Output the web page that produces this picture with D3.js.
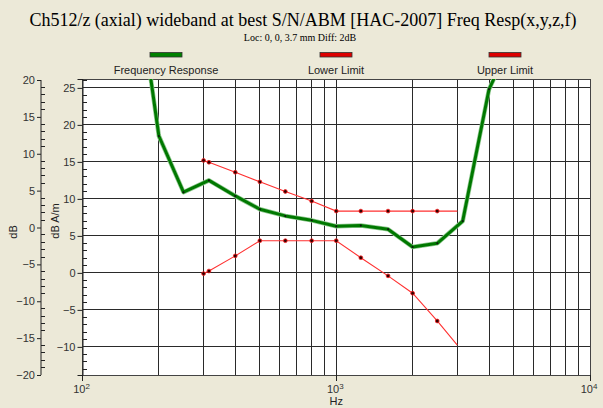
<!DOCTYPE html>
<html>
<head>
<meta charset="utf-8">
<script src="https://cdn.jsdelivr.net/npm/d3@7"></script>
<style>
  body { margin: 0; background: #ECE9D8; }
  svg { display: block; }
  .title { font-family: "Liberation Serif", "Times New Roman", serif; font-size: 18px; fill: #000; }
  .subtitle { font-family: "Liberation Serif", serif; font-size: 10px; fill: #000; }
  .legend-text { font-family: "Liberation Sans", Arial, sans-serif; font-size: 11px; fill: #222; }
  .tick-text { font-family: "Liberation Sans", Arial, sans-serif; font-size: 11px; fill: #333; }
  .xy-title { font-family: "Liberation Sans", Arial, sans-serif; font-size: 11px; fill: #222; }
</style>
</head>
<body>
<svg width="603" height="408"></svg>
<script>
const width = 603;
const height = 408;

const svg = d3.select('svg');

// Frequency response (dB A/m)
const respFreq = [160, 200, 250, 315, 400, 500, 630, 800, 1000, 1250, 1600, 2000, 2500, 3150, 4000, 5000];
const respDb   = [42, 18.5, 10.9, 12.5, 10.4, 8.6, 7.7, 7.1, 6.3, 6.4, 5.9, 3.5, 4.0, 7.0, 24.8, 32];

// limits
const limitFreq = [300, 315, 400, 500, 630, 800, 1000, 1250, 1600, 2000, 2500, 3000];
const upperDb   = [15.2, 14.95, 13.6, 12.3, 11.0, 9.7, 8.35, 8.35, 8.35, 8.35, 8.35, 8.35];
const lowerDb   = [-0.1, 0.25, 2.3, 4.35, 4.35, 4.35, 4.35, 2.05, -0.4, -2.75, -6.5, -9.75];

const legendNames = ['Frequency Response', 'Lower Limit', 'Upper Limit'];
const legendColors = ['#008000', '#dd0000', '#dd0000'];

const outerTicks = [-20, -15, -10, -5, 0, 5, 10, 15, 20];
const innerTicks = [-10, -5, 0, 5, 10, 15, 20, 25];
const decades = [2, 3, 4];

const margin = { left: 82.5, right: 13, top: 79, bottom: 33 };
const plotW = width - margin.left - margin.right;
const plotH = height - margin.top - margin.bottom;

const xScale = d3.scaleLog().domain([100, 10000]).range([margin.left, margin.left + plotW]);
const yInner = d3.scaleLinear().domain([-13.8, 26.2]).range([margin.top + plotH, margin.top]);
const yOuter = d3.scaleLinear().domain([-20, 20]).range([margin.top + plotH, margin.top + 1]);

// title
svg.append('text').attr('class', 'title')
    .attr('x', 303).attr('y', 26).attr('text-anchor', 'middle')
    .text('Ch512/z (axial) wideband at best S/N/ABM [HAC-2007] Freq Resp(x,y,z,f)');
svg.append('text').attr('class', 'subtitle')
    .attr('x', 300).attr('y', 41).attr('text-anchor', 'middle')
    .text('Loc: 0, 0, 3.7 mm Diff: 2dB');

// legend
const legendX = [166, 336, 505];
legendNames.forEach((name, i) => {
    svg.append('rect')
        .attr('x', legendX[i] - 16).attr('y', 52.5)
        .attr('width', 32).attr('height', 4.5)
        .attr('fill', legendColors[i])
        .attr('stroke', '#333').attr('stroke-width', 0.8);
    svg.append('text').attr('class', 'legend-text')
        .attr('x', legendX[i]).attr('y', 74).attr('text-anchor', 'middle')
        .text(name);
});

// plot background
svg.append('rect')
    .attr('x', margin.left).attr('y', margin.top)
    .attr('width', plotW).attr('height', plotH)
    .attr('fill', '#fff');

const grid = svg.append('g').attr('shape-rendering', 'crispEdges');

// vertical grid (log)
const xGrid = xScale.ticks().filter(f => f > 100 && f < 10000);
grid.selectAll('.vline').data(xGrid).enter().append('line')
    .attr('x1', d => xScale(d)).attr('x2', d => xScale(d))
    .attr('y1', margin.top).attr('y2', margin.top + plotH)
    .attr('stroke', '#2a2a2a').attr('stroke-width', 1);

// horizontal grid
grid.selectAll('.hline').data(innerTicks).enter().append('line')
    .attr('x1', margin.left).attr('x2', margin.left + plotW)
    .attr('y1', d => yInner(d)).attr('y2', d => yInner(d))
    .attr('stroke', '#2a2a2a').attr('stroke-width', 1);

// frame
grid.append('rect')
    .attr('x', margin.left).attr('y', margin.top)
    .attr('width', plotW).attr('height', plotH)
    .attr('fill', 'none').attr('stroke', '#444').attr('stroke-width', 1);

// inner y axis (dB A/m)
const innerAxis = d3.axisLeft(yInner).tickValues(innerTicks).tickSize(5).tickPadding(2);
const innerG = svg.append('g')
    .attr('transform', `translate(${margin.left},0)`)
    .call(innerAxis);
innerG.select('.domain').attr('stroke', '#222');
innerG.selectAll('.tick line').attr('stroke', '#222');
innerG.selectAll('.tick text').attr('class', 'tick-text').attr('font-size', null).attr('font-family', null);
const innerMinor = d3.range(-13, 27).filter(v => v % 5 !== 0);
innerG.selectAll('.minor').data(innerMinor).enter().append('line')
    .attr('x1', 0).attr('x2', 4)
    .attr('y1', d => yInner(d)).attr('y2', d => yInner(d))
    .attr('stroke', '#222').attr('shape-rendering', 'crispEdges');

// outer y axis (dB)
const outerX = 41;
const outerAxis = d3.axisLeft(yOuter).tickValues(outerTicks).tickSize(4).tickPadding(2);
const outerG = svg.append('g')
    .attr('transform', `translate(${outerX},0)`)
    .call(outerAxis);
outerG.select('.domain').attr('stroke', '#222').attr('d', `M0,${yOuter(20)}V${yOuter(-20)}`);
outerG.selectAll('.tick line').attr('stroke', '#222');
outerG.selectAll('.tick text').attr('class', 'tick-text').attr('font-size', null).attr('font-family', null);
const outerMinor = d3.range(-19, 20).filter(v => v % 5 !== 0);
outerG.selectAll('.minor').data(outerMinor).enter().append('line')
    .attr('x1', 0).attr('x2', 4)
    .attr('y1', d => yOuter(d)).attr('y2', d => yOuter(d))
    .attr('stroke', '#222').attr('shape-rendering', 'crispEdges');

// axis titles
svg.append('text').attr('class', 'xy-title')
    .attr('transform', `translate(17,${margin.top + plotH / 2 + 5}) rotate(-90)`)
    .attr('text-anchor', 'middle').text('dB');
svg.append('text').attr('class', 'xy-title')
    .attr('transform', `translate(59,${margin.top + plotH / 2 - 6}) rotate(-90)`)
    .attr('text-anchor', 'middle').text('dB A/m');

// x axis decade ticks + labels
const xAxisG = svg.append('g');
decades.forEach(p => {
    const xv = xScale(Math.pow(10, p));
    xAxisG.append('line')
        .attr('x1', xv).attr('x2', xv)
        .attr('y1', margin.top + plotH).attr('y2', margin.top + plotH + 6)
        .attr('stroke', '#222').attr('shape-rendering', 'crispEdges');
    const t = xAxisG.append('text').attr('class', 'tick-text')
        .attr('x', xv - 1).attr('y', margin.top + plotH + 18)
        .attr('text-anchor', 'middle');
    t.append('tspan').text('10');
    t.append('tspan').attr('dy', -4).attr('font-size', 8).text(p);
});
svg.append('text').attr('class', 'xy-title')
    .attr('x', xScale(1000)).attr('y', 405).attr('text-anchor', 'middle')
    .text('Hz');

// clip for data
svg.append('clipPath').attr('id', 'plot-clip')
    .append('rect')
    .attr('x', margin.left).attr('y', margin.top)
    .attr('width', plotW).attr('height', plotH);

const plot = svg.append('g').attr('clip-path', 'url(#plot-clip)');

const line = d3.line()
    .x(d => xScale(d[0]))
    .y(d => yInner(d[1]));

const upper = limitFreq.map((f, i) => [f, upperDb[i]]);
const lower = limitFreq.map((f, i) => [f, lowerDb[i]]);
const resp = respFreq.map((f, i) => [f, respDb[i]]);

[upper, lower].forEach(series => {
    plot.append('path')
        .datum(series)
        .attr('d', line)
        .attr('fill', 'none')
        .attr('stroke', '#ff3030')
        .attr('stroke-width', 1.1);
    plot.selectAll(null)
        .data(series.slice(0, -1))
        .enter()
        .append('circle')
        .attr('cx', d => xScale(d[0]))
        .attr('cy', d => yInner(d[1]))
        .attr('r', 1.9)
        .attr('fill', '#300')
        .attr('stroke', '#ff2020')
        .attr('stroke-width', 0.8);
});

plot.append('path')
    .datum(resp)
    .attr('d', line)
    .attr('fill', 'none')
    .attr('stroke', '#8fc88f')
    .attr('stroke-width', 4.5)
    .attr('stroke-linejoin', 'round');
plot.append('path')
    .datum(resp)
    .attr('d', line)
    .attr('fill', 'none')
    .attr('stroke', '#007800')
    .attr('stroke-width', 3)
    .attr('stroke-linejoin', 'round');
plot.selectAll(null)
    .data(resp)
    .enter()
    .append('circle')
    .attr('cx', d => xScale(d[0]))
    .attr('cy', d => yInner(d[1]))
    .attr('r', 1)
    .attr('fill', '#111');
</script>
</body>
</html>
